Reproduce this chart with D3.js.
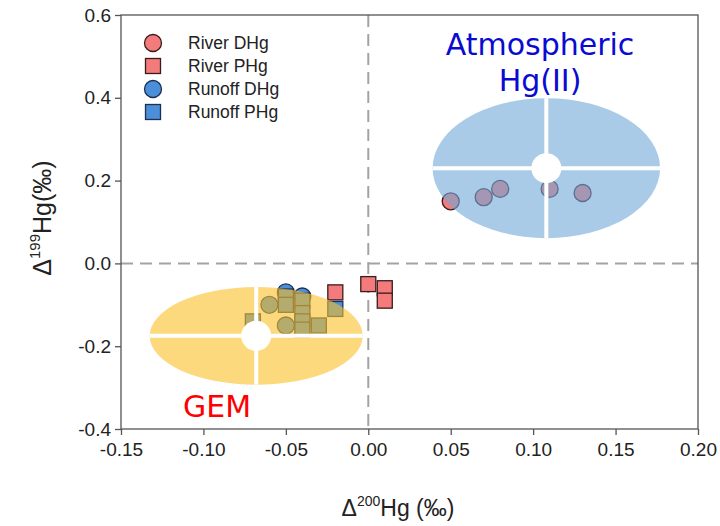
<!DOCTYPE html>
<html>
<head>
<meta charset="utf-8">
<script src="https://cdn.jsdelivr.net/npm/d3@7"></script>
<style>
  html, body { margin: 0; padding: 0; background: #fff; }
  svg { display: block; }
</style>
</head>
<body>
<svg id="chart" width="720" height="526"></svg>
<script>
// ---------------- data ----------------
const riverDHgX = [0.05, 0.07, 0.08, 0.11, 0.13];
const riverDHgY = [0.15, 0.16, 0.18, 0.18, 0.17];

const riverPHgX = [0.00, 0.01, 0.01, -0.02];
const riverPHgY = [-0.05, -0.06, -0.09, -0.07];

const runoffDHgX = [-0.05, -0.04, -0.06, -0.05];
const runoffDHgY = [-0.07, -0.08, -0.10, -0.15];

const runoffPHgX = [-0.05, -0.05, -0.04, -0.04, -0.04, -0.04, -0.03, -0.02, -0.07];
const runoffPHgY = [-0.08, -0.10, -0.09, -0.12, -0.14, -0.16, -0.15, -0.11, -0.14];

const xTicks = [-0.15, -0.10, -0.05, 0.00, 0.05, 0.10, 0.15, 0.20];
const yTicks = [-0.4, -0.2, 0.0, 0.2, 0.4, 0.6];

// source regions (centre x, centre y, radius x, radius y) in data units
const regionNames = ["Atmospheric Hg(II)", "GEM"];
const regionCx = [0.108, -0.068];
const regionCy = [0.230, -0.175];
const regionRx = [0.069, 0.0646];
const regionRy = [0.169, 0.118];

const legendNames = ["River DHg", "River PHg", "Runoff DHg", "Runoff PHg"];

// ---------------- chart ----------------
(function () {
const svg = d3.select("#chart");
const pL = 121, pR = 698, pT = 15, pB = 429;

const x = d3.scaleLinear().domain([-0.15, 0.20]).range([pL, pR]);
const y = d3.scaleLinear().domain([-0.4, 0.6]).range([pB, pT]);

const pink = "#f47b7b", blue = "#4a8fd8";
const axisFont = "'Liberation Sans', Arial, sans-serif";

// zero lines
svg.append("line")
  .attr("x1", x(0)).attr("x2", x(0)).attr("y1", pT).attr("y2", pB)
  .attr("stroke", "#a3a3a3").attr("stroke-width", 2).attr("stroke-dasharray", "12,7");
svg.append("line")
  .attr("x1", pL).attr("x2", pR).attr("y1", y(0)).attr("y2", y(0))
  .attr("stroke", "#a3a3a3").attr("stroke-width", 2).attr("stroke-dasharray", "12,7");

const zip = (xs, ys) => xs.map((v, i) => ({x: v, y: ys[i]}));
const sq = 15, cr = 8.5;

function circles(data, fill, stroke) {
  svg.append("g").selectAll("circle").data(data).join("circle")
    .attr("cx", d => x(d.x)).attr("cy", d => y(d.y)).attr("r", cr)
    .attr("fill", fill).attr("stroke", stroke).attr("stroke-width", 1.3);
}
function squares(data, fill, stroke) {
  svg.append("g").selectAll("rect").data(data).join("rect")
    .attr("x", d => x(d.x) - sq / 2).attr("y", d => y(d.y) - sq / 2)
    .attr("width", sq).attr("height", sq)
    .attr("fill", fill).attr("stroke", stroke).attr("stroke-width", 1.3);
}

circles(zip(runoffDHgX, runoffDHgY), blue, "#1d2f55");
squares(zip(runoffPHgX, runoffPHgY), blue, "#1d2f55");
squares(zip(riverPHgX, riverPHgY), pink, "#3a1c1c");
circles(zip(riverDHgX, riverDHgY), pink, "#3a1c1c");

// source ellipses (semi-transparent, over the points)
const regionFill = ["#70a8d9", "#fcc026"];
const regionText = ["#0a0ad0", "#ff0000"];
regionNames.forEach((name, i) => {
  const cx = x(regionCx[i]), cy = y(regionCy[i]);
  const rx = x(regionCx[i] + regionRx[i]) - cx;
  const ry = y(regionCy[i] - regionRy[i]) - cy;
  const g = svg.append("g");
  g.append("ellipse").attr("cx", cx).attr("cy", cy).attr("rx", rx).attr("ry", ry)
    .attr("fill", regionFill[i]).attr("fill-opacity", 0.6);
  g.append("line").attr("x1", cx - rx).attr("x2", cx + rx).attr("y1", cy).attr("y2", cy)
    .attr("stroke", "#fff").attr("stroke-width", 4);
  g.append("line").attr("x1", cx).attr("x2", cx).attr("y1", cy - ry).attr("y2", cy + ry)
    .attr("stroke", "#fff").attr("stroke-width", 4);
  g.append("circle").attr("cx", cx).attr("cy", cy).attr("r", 15).attr("fill", "#fff");
});

// region labels
const lblFont = "'DejaVu Sans', sans-serif";
const atm = svg.append("text").attr("text-anchor", "middle")
  .attr("font-family", lblFont).attr("font-size", 30).attr("fill", regionText[0]);
atm.append("tspan").attr("x", 540).attr("y", 55).text(regionNames[0].split(" ")[0]);
atm.append("tspan").attr("x", 540).attr("y", 91).text(regionNames[0].split(" ")[1]);
svg.append("text").attr("x", 217).attr("y", 417).attr("text-anchor", "middle")
  .attr("font-family", lblFont).attr("font-size", 30).attr("fill", regionText[1])
  .text(regionNames[1]);

// frame
svg.append("rect").attr("x", pL).attr("y", pT)
  .attr("width", pR - pL).attr("height", pB - pT)
  .attr("fill", "none").attr("stroke", "#555").attr("stroke-width", 1.3);

// axes
const hy = f => d => f(d).replace("\u2212", "-");
const xAxis = d3.axisBottom(x).tickValues(xTicks).tickFormat(hy(d3.format(".2f")))
  .tickSizeInner(6).tickSizeOuter(0).tickPadding(8);
const yAxis = d3.axisLeft(y).tickValues(yTicks).tickFormat(hy(d3.format(".1f")))
  .tickSizeInner(6).tickSizeOuter(0).tickPadding(4);

const gx = svg.append("g").attr("transform", `translate(0,${pB})`).call(xAxis);
const gy = svg.append("g").attr("transform", `translate(${pL},0)`).call(yAxis);
[gx, gy].forEach(g => {
  g.select(".domain").remove();
  g.selectAll(".tick line").attr("stroke", "#555").attr("stroke-width", 1.3);
  g.selectAll(".tick text").attr("font-family", axisFont).attr("font-size", 19).attr("fill", "#222");
});

// axis titles
const xt = svg.append("text").attr("x", 398).attr("y", 516).attr("text-anchor", "middle")
  .attr("font-family", axisFont).attr("font-size", 23).attr("fill", "#222");
xt.append("tspan").text("Δ");
xt.append("tspan").attr("font-size", 14).attr("dy", -10).text("200");
xt.append("tspan").attr("dy", 10).text("Hg (‰)");

const yt = svg.append("text").attr("transform", "translate(51,218) rotate(-90)")
  .attr("text-anchor", "middle")
  .attr("font-family", axisFont).attr("font-size", 25).attr("fill", "#222");
yt.append("tspan").text("Δ");
yt.append("tspan").attr("font-size", 15).attr("dy", -11).text("199");
yt.append("tspan").attr("dy", 11).text("Hg(‰)");

// legend
const legFill = [pink, pink, blue, blue];
const legStroke = ["#3a1c1c", "#3a1c1c", "#1d2f55", "#1d2f55"];
const legShape = ["circle", "square", "circle", "square"];
const lg = svg.append("g");
legendNames.forEach((name, i) => {
  const ly = 43 + i * 23;
  if (legShape[i] === "circle") {
    lg.append("circle").attr("cx", 153).attr("cy", ly).attr("r", cr)
      .attr("fill", legFill[i]).attr("stroke", legStroke[i]).attr("stroke-width", 1.3);
  } else {
    lg.append("rect").attr("x", 153 - sq / 2).attr("y", ly - sq / 2).attr("width", sq).attr("height", sq)
      .attr("fill", legFill[i]).attr("stroke", legStroke[i]).attr("stroke-width", 1.3);
  }
  lg.append("text").attr("x", 188).attr("y", ly).attr("dy", "0.36em")
    .attr("font-family", axisFont).attr("font-size", 17.5).attr("fill", "#222").text(name);
});
})();
</script>
</body>
</html>
